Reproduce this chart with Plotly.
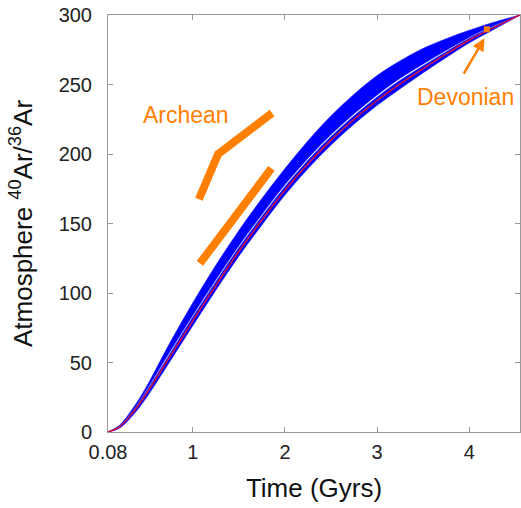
import plotly.graph_objects as go

# Time since solar-system formation (Gyr)
time_gyr = [0.08, 0.2, 0.35, 0.5, 0.75, 1.0, 1.25, 1.5, 1.75, 2.0,
            2.25, 2.5, 2.75, 3.0, 3.25, 3.5, 3.75, 4.0, 4.25, 4.55]

# Preferred degassing model (red curve) and the narrow envelope around it
ratio_best = [0, 3.5, 14, 28, 54, 80, 105.5, 130, 152.5, 174,
              193, 210, 225, 238.5, 250.5, 261.5, 272, 282, 290.5, 300]
ratio_best_lo = [0, 2.5, 12, 25, 50.5, 76.5, 102, 126.5, 149, 170.5,
                 189.5, 206.5, 221.5, 235, 247, 258.5, 269.5, 280, 289, 300]
ratio_best_hi = [0, 4, 15, 29.5, 56, 82.5, 108, 132.5, 155, 176.5,
                 195.5, 212.5, 227.5, 241, 253, 263.5, 273.5, 283.2, 291.3, 300]

# Wider ensemble of model runs above it
ratio_ens_lo = [0, 4.2, 15.5, 30.5, 57.5, 84, 109.5, 134, 156.5, 178,
                197, 214, 229, 242.5, 254.5, 264.8, 274.6, 284, 291.9, 300]
ratio_ens_hi = [0, 4.5, 17, 33, 64, 93, 120, 145, 168, 189.5,
                209.5, 227.5, 243, 256.5, 267, 276, 283, 289, 294.5, 300]

# Archean constraints (two trends)
archean_a_t = [1.066, 1.275, 1.86]
archean_a_r = [167.4, 200, 229.5]
archean_b_t = [1.077, 1.853]
archean_b_r = [121.3, 189.7]

# Devonian measurement
devonian_t = [4.19]
devonian_r = [289.7]

x_ticks = [0.08, 1, 2, 3, 4]
x_tick_text = ["0.08", "1", "2", "3", "4"]
y_ticks = [0, 50, 100, 150, 200, 250, 300]

BLUE = "#0000ff"
RED = "#d6103f"
ORANGE = "#ff8000"
FONT = "Arial, Liberation Sans, sans-serif"

fig = go.Figure()


def band(lo, hi):
    line = dict(color=BLUE, width=0.5, shape="spline")
    fig.add_trace(go.Scatter(x=time_gyr, y=lo, mode="lines", line=line, hoverinfo="skip"))
    fig.add_trace(go.Scatter(x=time_gyr, y=hi, mode="lines", fill="tonexty",
                             fillcolor=BLUE, line=line, hoverinfo="skip"))


band(ratio_best_lo, ratio_best_hi)
band(ratio_ens_lo, ratio_ens_hi)
fig.add_trace(go.Scatter(x=time_gyr, y=ratio_best, mode="lines",
                         line=dict(color=RED, width=1.5, shape="spline")))

fig.add_trace(go.Scatter(x=archean_a_t, y=archean_a_r, mode="lines",
                         line=dict(color=ORANGE, width=8)))
fig.add_trace(go.Scatter(x=archean_b_t, y=archean_b_r, mode="lines",
                         line=dict(color=ORANGE, width=8)))
fig.add_trace(go.Scatter(x=devonian_t, y=devonian_r, mode="markers",
                         marker=dict(color=ORANGE, size=6, symbol="square")))

fig.add_annotation(x=0.925, y=228, text="Archean", showarrow=False,
                   font=dict(family=FONT, size=23, color=ORANGE))
fig.add_annotation(x=3.958, y=241, text="Devonian", showarrow=False,
                   font=dict(family=FONT, size=23, color=ORANGE))
fig.add_annotation(x=4.165, y=283.2, ax=3.93, ay=256.8,
                   xref="x", yref="y", axref="x", ayref="y",
                   text="", showarrow=True, arrowhead=2, arrowsize=1,
                   arrowwidth=2.5, arrowcolor=ORANGE)

axis_common = dict(showline=True, linecolor="#9a9a9a", linewidth=1, mirror="ticks",
                   ticks="inside", ticklen=5, tickcolor="#9a9a9a",
                   showgrid=False, zeroline=False,
                   tickfont=dict(family=FONT, size=20, color="#222222"))

fig.update_xaxes(range=[0.08, 4.55], tickvals=x_ticks, ticktext=x_tick_text,
                 ticklabelstandoff=2,
                 title=dict(text="Time (Gyrs)", font=dict(family=FONT, size=26, color="#111111"),
                            standoff=16),
                 **axis_common)
fig.update_yaxes(range=[0, 300], tickvals=y_ticks, ticklabelstandoff=11,
                 title=dict(text="Atmosphere <sup>40</sup>Ar/<sup>36</sup>Ar",
                            font=dict(family=FONT, size=26, color="#111111"), standoff=18),
                 **axis_common)

fig.update_layout(width=521, height=508, showlegend=False,
                  margin=dict(l=108, r=1, t=15, b=76),
                  plot_bgcolor="white", paper_bgcolor="white")

fig.write_html("out.html")
